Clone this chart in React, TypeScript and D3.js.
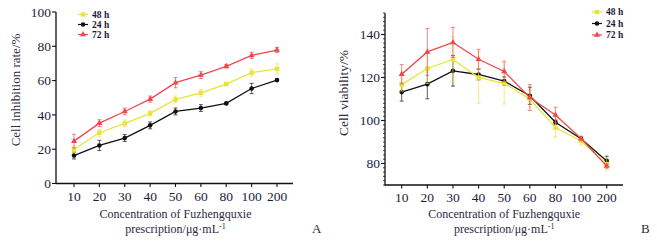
import React from "react";
import * as d3 from "d3";

const categories = ["10", "20", "30", "40", "50", "60", "80", "100", "200"];
const seriesNames = ["48 h", "24 h", "72 h"];
const colors = ["#e9e33a", "#111111", "#f0474d"];
const shapes = ["square", "circle", "triangle"];

// Panel A: cell inhibition rate (%)
const inhib48 = [20.0, 29.6, 35.0, 40.9, 49.0, 52.9, 58.0, 64.6, 66.8];
const inhib24 = [16.3, 22.2, 26.5, 33.9, 42.0, 44.0, 46.7, 55.4, 60.3];
const inhib72 = [24.7, 35.2, 42.0, 49.2, 58.8, 63.2, 68.3, 74.7, 77.8];
const inhibErr48 = [2, 2, 2, 1.5, 2, 2, 1, 2, 3];
const inhibErr24 = [2, 3, 2, 2, 2, 2, 0.5, 3, 0.7];
const inhibErr72 = [4, 2, 2, 1.8, 3, 2, 1, 1.8, 1.5];
const inhibTicks = [0, 20, 40, 60, 80, 100];

// Panel B: cell viability (%)
const viab48 = [116.7, 124.2, 128.4, 120.0, 117.2, 110.0, 96.7, 90.5, 79.7];
const viab24 = [113.2, 116.9, 123.1, 121.4, 118.3, 111.5, 99.2, 91.5, 81.2];
const viab72 = [121.5, 131.9, 136.3, 128.5, 122.8, 110.7, 102.6, 91.6, 78.8];
const viabErr48 = [3, 7, 10.6, 12, 9.5, 4, 4.4, 2, 2.8];
const viabErr24 = [4.2, 6.8, 7.1, 2.5, 2, 4, 1, 1, 2.2];
const viabErr72 = [4.5, 10.9, 7, 4.6, 4.8, 6, 3.6, 1, 1];
const viabTicks = [80, 100, 120, 140];

const FONT = "'Liberation Serif', 'DejaVu Serif', serif";
const TICK_COLOR = "#1c1c3a";
const TITLE_COLOR = "#2c2a40";

function Marker({ shape, x, y, color }: { shape: string; x: number; y: number; color: string }) {
  if (shape === "square") return <rect x={x - 2.2} y={y - 2.2} width={4.4} height={4.4} fill={color} />;
  if (shape === "circle") return <circle cx={x} cy={y} r={2.3} fill={color} />;
  const p = d3.symbol(d3.symbolTriangle, 16)();
  return <path d={p || ""} transform={`translate(${x},${y})`} fill={color} />;
}

type PanelProps = {
  x0: number; x1: number; xFirst: number; xLast: number;
  yTop: number; yBottom: number; domain: [number, number];
  ticks: number[]; minorStep?: number;
  series: number[][]; errs: number[][];
  yTitle: string; yTitleX: number; yTitleY: number; yTitleSize: number;
  legendX: number; legendY: number[];
  letter: string; letterX: number;
};

function Panel(p: PanelProps) {
  const x = d3.scalePoint<string>().domain(categories).range([p.xFirst, p.xLast]);
  const y = d3.scaleLinear().domain(p.domain).range([p.yBottom, p.yTop]);
  const line = d3.line<number>().x((_, i) => x(categories[i]) as number).y((v) => y(v));
  const minors: number[] = [];
  if (p.minorStep) {
    for (let v = p.domain[0]; v <= p.domain[1] + 1e-6; v += p.minorStep) minors.push(v);
  }
  const cx = (p.xFirst + p.xLast) / 2;
  const order = [1, 0, 2];
  return (
    <g>
      <line x1={p.x0} x2={p.x0} y1={p.yTop} y2={p.yBottom + 0.5} stroke="#111" strokeWidth={1.3} />
      {minors.map((v) => (
        <line key={"m" + v} x1={p.x0 - 2} x2={p.x0} y1={y(v)} y2={y(v)} stroke="#111" strokeWidth={0.8} />
      ))}
      {p.ticks.map((v) => (
        <g key={v}>
          <line x1={p.x0 - 4} x2={p.x0} y1={y(v)} y2={y(v)} stroke="#111" strokeWidth={1.1} />
          <text x={p.x0 - 5} y={y(v)} dy="0.35em" textAnchor="end" fontSize={13.5} fill={TICK_COLOR} fontFamily={FONT}>{v}</text>
        </g>
      ))}
      <line x1={p.x0} x2={p.x1} y1={p.yBottom} y2={p.yBottom} stroke="#111" strokeWidth={1.3} />
      {categories.map((c) => (
        <g key={c}>
          <line x1={x(c)} x2={x(c)} y1={p.yBottom} y2={p.yBottom + 3.5} stroke="#111" strokeWidth={1.1} />
          <text x={x(c)} y={p.yBottom + 17} textAnchor="middle" fontSize={13.5} fill={TICK_COLOR} fontFamily={FONT}>{c}</text>
        </g>
      ))}
      <text x={cx} y={218} textAnchor="middle" fontSize={12} fill={TITLE_COLOR} fontFamily={FONT}>Concentration of Fuzhengquxie</text>
      <text x={cx} y={233} textAnchor="middle" fontSize={12} fill={TITLE_COLOR} fontFamily={FONT}>
        prescription/μg·mL<tspan dy="-4" fontSize={8}>-1</tspan>
      </text>
      <text transform={`translate(${p.yTitleX},${p.yTitleY}) rotate(-90)`} textAnchor="middle" fontSize={p.yTitleSize} fill={TITLE_COLOR} fontFamily={FONT}>{p.yTitle}</text>
      <text x={p.letterX} y={233} fontSize={13} fill={TITLE_COLOR} fontFamily={FONT}>{p.letter}</text>
      {order.map((si) => (
        <g key={si}>
          {p.series[si].map((v, i) => {
            const xx = x(categories[i]) as number;
            const e = p.errs[si][i];
            return (
              <g key={i} stroke={colors[si]} strokeOpacity={0.75} strokeWidth={0.9}>
                <line x1={xx} x2={xx} y1={y(v - e)} y2={y(v + e)} />
                <line x1={xx - 2} x2={xx + 2} y1={y(v - e)} y2={y(v - e)} />
                <line x1={xx - 2} x2={xx + 2} y1={y(v + e)} y2={y(v + e)} />
              </g>
            );
          })}
          <path d={line(p.series[si]) || ""} fill="none" stroke={colors[si]} strokeWidth={1.3} />
          {p.series[si].map((v, i) => (
            <Marker key={i} shape={shapes[si]} x={x(categories[i]) as number} y={y(v)} color={colors[si]} />
          ))}
        </g>
      ))}
      {seriesNames.map((n, i) => (
        <g key={n}>
          <line x1={p.legendX} x2={p.legendX + 10} y1={p.legendY[i]} y2={p.legendY[i]} stroke={colors[i]} strokeWidth={1.2} />
          <Marker shape={shapes[i]} x={p.legendX + 5} y={p.legendY[i]} color={colors[i]} />
          <text x={p.legendX + 14} y={p.legendY[i]} dy="0.35em" fontSize={9.5} fill={TICK_COLOR} fontFamily={FONT} fontWeight="bold">{n}</text>
        </g>
      ))}
    </g>
  );
}

export default function App() {
  return (
    <svg width={657} height={246} style={{ position: "absolute", left: 0, top: 0, background: "#fff" }}>
      <rect width={657} height={246} fill="#fff" />
      <Panel
        x0={56} x1={293} xFirst={74} xLast={277}
        yTop={12} yBottom={183.5} domain={[0, 100]} ticks={inhibTicks}
        series={[inhib48, inhib24, inhib72]} errs={[inhibErr48, inhibErr24, inhibErr72]}
        yTitle="Cell inhibition rate/%" yTitleX={20} yTitleY={90} yTitleSize={13}
        legendX={78} legendY={[14.5, 24.5, 34.5]}
        letter="A" letterX={312}
      />
      <Panel
        x0={385} x1={623} xFirst={401.7} xLast={606.7}
        yTop={13} yBottom={185} domain={[70, 150]} ticks={viabTicks} minorStep={2}
        series={[viab48, viab24, viab72]} errs={[viabErr48, viabErr24, viabErr72]}
        yTitle="Cell viability/%" yTitleX={348} yTitleY={93} yTitleSize={13.5}
        legendX={592} legendY={[12, 23.5, 35]}
        letter="B" letterX={641}
      />
    </svg>
  );
}
